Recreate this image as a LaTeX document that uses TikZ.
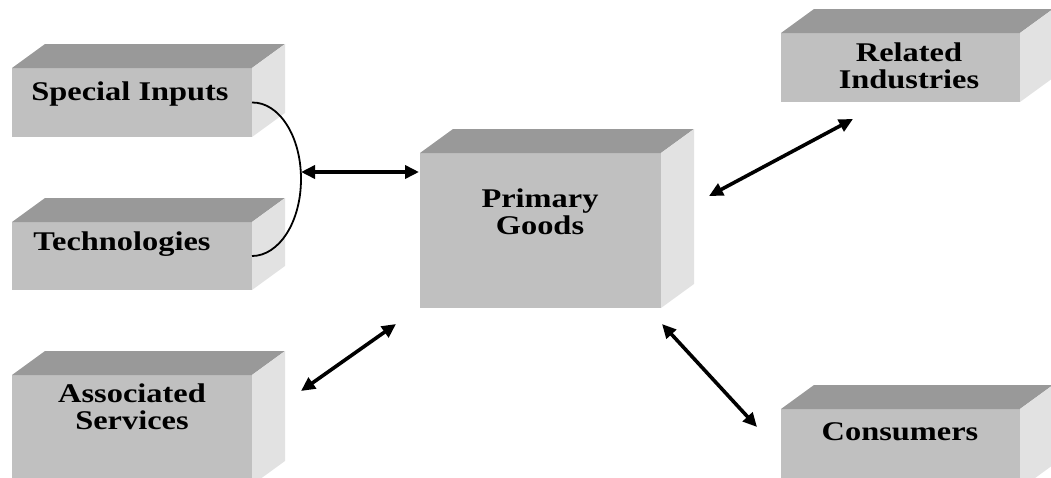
\documentclass[tikz,border=0pt]{standalone}
\usepackage{fontspec}
\setmainfont{Liberation Serif}
\newfontfamily\lblfont[FakeStretch=1.2]{Liberation Serif}
\usetikzlibrary{arrows.meta}
\definecolor{frontgray}{HTML}{C0C0C0}
\definecolor{topgray}{HTML}{999999}
\definecolor{sidegray}{HTML}{E2E2E2}
\tikzset{
  front/.style={fill=frontgray, draw=none, inner sep=0pt, outer sep=0pt, anchor=north west},
  topface/.style={fill=topgray},
  sideface/.style={fill=sidegray},
  lbl/.style={font=\lblfont\bfseries\fontsize{27}{27}\selectfont, align=center, inner sep=0pt, anchor=base},
  dbl/.style={{Triangle[length=14pt,width=13pt]}-{Triangle[length=14pt,width=13pt]}, line width=3.6pt},
  bracket/.style={line width=1.8pt}
}
\newcommand\cubebox[5]{%
  \node[front, minimum width=#4pt, minimum height=#5pt] (#1) at (#2,#3) {};
  \fill[topface] (#1.north west) -- ++(33,-24) -- ([shift={(33,-24)}]#1.north east) -- (#1.north east) -- cycle;
  \fill[sideface] (#1.north east) -- ++(33,-24) -- ([shift={(33,-24)}]#1.south east) -- (#1.south east) -- cycle;
}
\begin{document}
\begin{tikzpicture}[x=1pt,y=-1pt]
\clip (0,0) rectangle (1051,477);
\cubebox{si}{12}{68}{240}{69}
\cubebox{tech}{12}{222}{240}{68}
\cubebox{as}{12}{375}{240}{110}
\cubebox{pg}{420}{153}{241}{155}
\cubebox{ri}{781}{33}{239}{69}
\cubebox{cons}{781}{409}{239}{80}
\node[lbl] (siT) at (130,100) {Special Inputs};
\node[lbl] (techT) at (122,250) {Technologies};
\node[lbl] (asT) at (132,429) {Associated\\Services};
\node[lbl] (pgT) at (540,234) {Primary\\Goods};
\node[lbl] (riT) at (909,88) {Related\\Industries};
\node[lbl] (consT) at (900,440) {Consumers};
\coordinate (apex) at (301,179);
\draw[bracket] (si.east) .. controls (279,102) and (301,136) .. (apex)
  .. controls (301,222) and (279,256) .. (tech.east);
\coordinate (a1s) at (301,172);
\coordinate (pgW) at (419,172);
\draw[dbl] (a1s) -- (pgW);
\coordinate (pgNE) at (709,196);
\coordinate (riSW) at (853,119);
\draw[dbl] (pgNE) -- (riSW);
\coordinate (asNE) at (301,391);
\coordinate (pgSW) at (396,324);
\draw[dbl] (asNE) -- (pgSW);
\coordinate (pgSE) at (662,324);
\coordinate (consNW) at (757,427);
\draw[dbl] (pgSE) -- (consNW);
\end{tikzpicture}
\end{document}
